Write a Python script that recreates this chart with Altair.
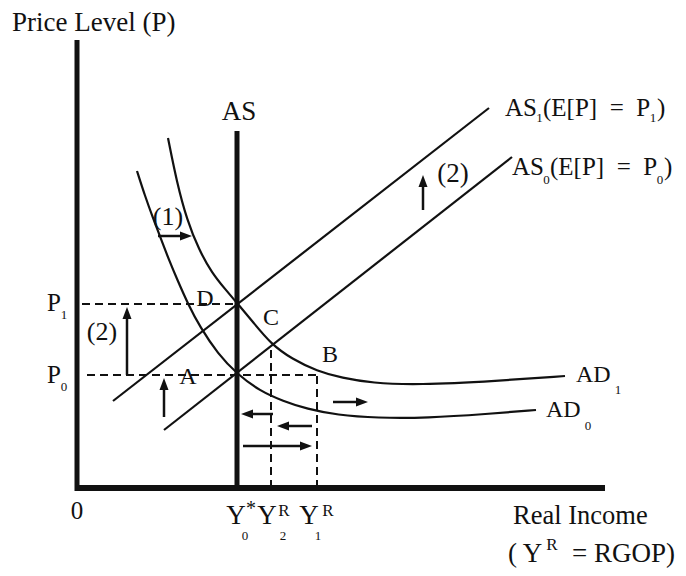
import altair as alt
import pandas as pd

# ---- coordinate frame: origin of the diagram at (0, 0); units are "real income" / "price level"
X_DOMAIN = [-69, 601]
Y_DOMAIN = [-80, 480]

# key levels
Y_STAR = 160   # Y0*
Y_2 = 194      # Y2^R
Y_1 = 240      # Y1^R
P_0 = 113
P_1 = 184

# Aggregate demand curves
ad0_x = [60, 68, 76, 84, 92, 100, 111, 123, 141, 160, 183, 206, 230, 260, 300, 350, 410, 459]
ad0_y = [317, 292, 270, 249, 228, 209, 184, 161, 134, 114, 97, 87, 79, 73, 70, 70, 74, 78]
ad1_x = [91, 100, 110, 122, 135, 148, 160, 176, 194, 215, 240, 265, 295, 340, 420, 488]
ad1_y = [350, 305, 268, 238, 215, 199, 185, 166, 144, 129, 117, 110, 105, 103, 107, 112]

# thick lines: axes and vertical long-run AS
thick_names = ["yaxis", "xaxis", "AS"]
thick_x1 = [0, -2, Y_STAR]
thick_y1 = [-3, 0, 0]
thick_x2 = [0, 528, Y_STAR]
thick_y2 = [448, 0, 357]
thick_w = [5, 6, 5]

# short-run AS lines
as_names = ["AS0", "AS1"]
as_x1 = [87, 36]
as_y1 = [58, 87]
as_x2 = [435, 412]
as_y2 = [331, 380]

# dashed guides
dash_x1 = [5, 10, Y_2, Y_1]
dash_y1 = [P_1, P_0, 0, 0]
dash_x2 = [Y_STAR, Y_1, Y_2, Y_1]
dash_y2 = [P_1, P_0, 143, P_0]

# arrows: start -> tip
arr_x1 = [81, 346, 50, 87, 196, 235, 166, 256]
arr_y1 = [252, 278, P_0, 71, 74, 62, 42, 86]
arr_x2 = [115, 346, 50, 87, 164, 200, 235, 291]
arr_y2 = [252, 313, 181, 110, 74, 62, 42, 86]

SP = "\u2002"
# text labels (left aligned)
tl_text = ["Price Level (P)", "AS", "(E[P]" + SP + "=" + SP + "P", ")", "AS", "(E[P]" + SP + "=" + SP + "P", ")",
           "AD", "AD", "Real Income", "( Y", "= RGOP)"]
tl_x = [-65, 428, 466, 580, 435, 473, 587, 499, 469, 436, 431, 495]
tl_y = [465, 380, 380, 380, 321, 321, 321, 113, 78, -28, -66, -66]
tl_s = [27, 25, 25, 25, 25, 25, 25, 24, 24, 26.5, 27, 27]

# text labels (centred)
tc_text = ["AS", "P", "1", "P", "0", "(2)", "D", "A", "C", "B", "(1)", "(2)",
           "1", "1", "0", "0", "1", "0", "0",
           "Y", "*", "0", "Y", "R", "2", "Y", "R", "1", "R"]
tc_x = [162, -23, -13, -23, -13, 25, 128, 111, 194, 253, 91, 376,
        462.5, 576, 469.5, 583, 541, 511, 0,
        159, 174, 168, 190, 207, 206, 232, 251, 241, 475]
tc_y = [376, 185, 173, 113, 101, 156, 189, 111, 170, 133, 271, 314,
        370, 370, 308, 308, 98, 62, -23,
        -28, -21, -48, -28, -23, -48, -28, -23, -48, -57]
tc_s = [27, 25, 13, 25, 13, 26, 24, 24, 24, 24, 26, 27,
        13, 13, 13, 13, 13, 13, 25,
        27, 20, 13, 27, 17, 13, 27, 17, 13, 17]

FONT = "Liberation Serif"
INK = "#111111"

xs = alt.Scale(domain=X_DOMAIN, nice=False, zero=False)
ys = alt.Scale(domain=Y_DOMAIN, nice=False, zero=False)
X = lambda f: alt.X(f, type="quantitative", scale=xs, axis=None)
Y = lambda f: alt.Y(f, type="quantitative", scale=ys, axis=None)

# ---- build tables
curves = pd.DataFrame(
    [{"name": "AD0", "i": i, "x": a, "y": b} for i, (a, b) in enumerate(zip(ad0_x, ad0_y))]
    + [{"name": "AD1", "i": i, "x": a, "y": b} for i, (a, b) in enumerate(zip(ad1_x, ad1_y))]
)
thick = pd.DataFrame({"name": thick_names, "x": thick_x1, "y": thick_y1,
                      "x2": thick_x2, "y2": thick_y2, "w": thick_w})
aslines = pd.DataFrame({"name": as_names, "x": as_x1, "y": as_y1, "x2": as_x2, "y2": as_y2})
dashes = pd.DataFrame({"x": dash_x1, "y": dash_y1, "x2": dash_x2, "y2": dash_y2})

HEAD = 12
shaft_rows, head_rows = [], []
for x1, y1, x2, y2 in zip(arr_x1, arr_y1, arr_x2, arr_y2):
    dx, dy = x2 - x1, y2 - y1
    L = (dx * dx + dy * dy) ** 0.5
    ux, uy = dx / L, dy / L
    shaft_rows.append({"x": x1, "y": y1, "x2": x2 - ux * (HEAD - 2), "y2": y2 - uy * (HEAD - 2)})
    if abs(dx) > abs(dy):
        shape = "M0,0L-2,-0.75L-2,0.75Z" if dx > 0 else "M0,0L2,-0.75L2,0.75Z"
    else:
        shape = "M0,0L-0.75,2L0.75,2Z" if dy > 0 else "M0,0L-0.75,-2L0.75,-2Z"
    head_rows.append({"x": x2, "y": y2, "shape": shape})
shafts = pd.DataFrame(shaft_rows)
heads = pd.DataFrame(head_rows)

tleft = pd.DataFrame({"t": tl_text, "x": tl_x, "y": tl_y, "s": tl_s})
tcent = pd.DataFrame({"t": tc_text, "x": tc_x, "y": tc_y, "s": tc_s})

# ---- layers
l_thick = alt.Chart(thick).mark_rule(color=INK, strokeCap="butt").encode(
    x=X("x"), y=Y("y"), x2="x2", y2="y2",
    strokeWidth=alt.StrokeWidth("w:Q", scale=None))
l_as = alt.Chart(aslines).mark_rule(color=INK, strokeWidth=2.2).encode(
    x=X("x"), y=Y("y"), x2="x2", y2="y2")
l_dash = alt.Chart(dashes).mark_rule(color=INK, strokeWidth=2, strokeDash=[8, 5]).encode(
    x=X("x"), y=Y("y"), x2="x2", y2="y2")
l_curves = alt.Chart(curves).mark_line(color=INK, strokeWidth=2.2, interpolate="basis").encode(
    x=X("x"), y=Y("y"), detail="name:N", order="i:Q")
l_shafts = alt.Chart(shafts).mark_rule(color=INK, strokeWidth=2.5).encode(
    x=X("x"), y=Y("y"), x2="x2", y2="y2")
l_heads = alt.Chart(heads).mark_point(filled=True, color=INK, opacity=1, size=144, strokeWidth=0).encode(
    x=X("x"), y=Y("y"), shape=alt.Shape("shape:N", scale=None))
l_tl = alt.Chart(tleft).mark_text(font=FONT, color=INK, align="left", baseline="middle").encode(
    x=X("x"), y=Y("y"), text="t:N", size=alt.Size("s:Q", scale=None))
l_tc = alt.Chart(tcent).mark_text(font=FONT, color=INK, align="center", baseline="middle").encode(
    x=X("x"), y=Y("y"), text="t:N", size=alt.Size("s:Q", scale=None))

chart = alt.layer(l_dash, l_as, l_curves, l_thick, l_shafts, l_heads, l_tl, l_tc).properties(
    width=670, height=560, autosize=alt.AutoSizeParams(type="none"), padding=0,
    background="white"
).configure_view(stroke=None)

chart.save("out.html", embed_options={"renderer": "svg", "actions": False})
